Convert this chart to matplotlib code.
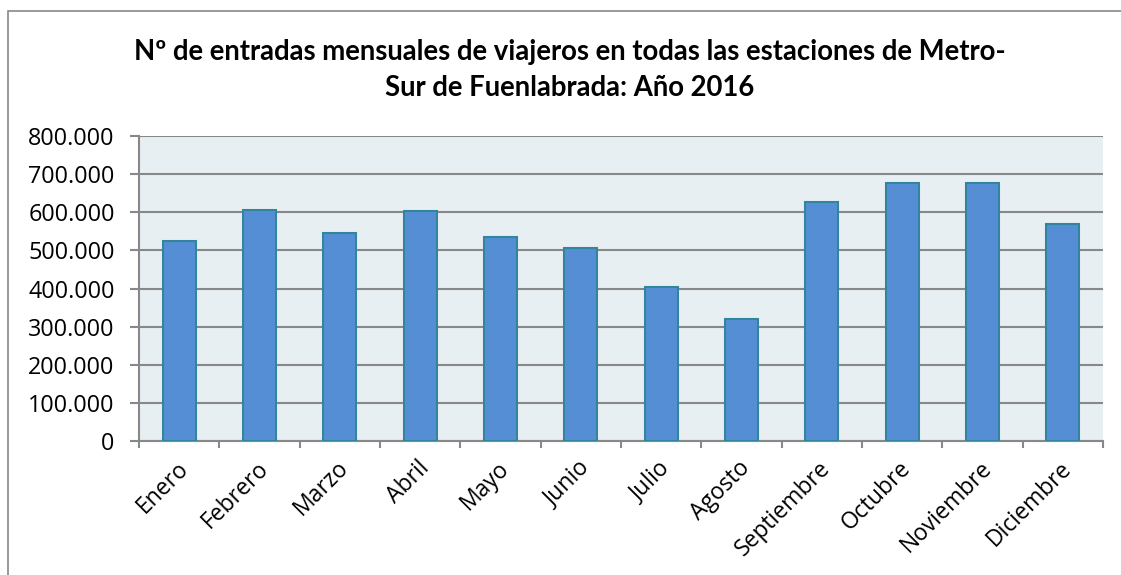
import numpy as np
import matplotlib.pyplot as plt
import matplotlib.transforms as mtransforms
from matplotlib.patches import Rectangle
from matplotlib.ticker import FuncFormatter

meses = ["Enero", "Febrero", "Marzo", "Abril", "Mayo", "Junio", "Julio",
         "Agosto", "Septiembre", "Octubre", "Noviembre", "Diciembre"]
entradas = [525000, 605000, 545000, 603000, 535000, 506000, 404000,
            320000, 628000, 676000, 677000, 569000]

plt.rcParams['font.family'] = ['Open Sans', 'DejaVu Sans']

fig = plt.figure(figsize=(11.21, 5.75), dpi=100)
ax = fig.add_axes([139 / 1121, 1 - 441 / 575, (1103 - 139) / 1121, (441 - 136) / 575])

x = np.arange(len(meses))
ax.bar(x, entradas, width=0.41, color="#558ED5", edgecolor="#31859C",
       linewidth=1.5, zorder=3)

ax.set_facecolor("#E8EFF3")
ax.set_xlim(-0.5, len(meses) - 0.5)
ax.set_ylim(0, 800000)
ax.set_yticks(np.arange(0, 800001, 100000))
ax.yaxis.set_major_formatter(FuncFormatter(lambda v, p: f"{int(v):,}".replace(",", ".")))
ax.grid(axis="y", color="#888888", linewidth=1.5, zorder=1)

# ticks between categories
ax.set_xticks(np.arange(-0.5, len(meses), 1.0))
ax.set_xticklabels([])
ax.set_xticks(x, minor=True)
ax.set_xticklabels(meses, minor=True, rotation=45, ha="right",
                   rotation_mode="anchor", fontsize=16.5)
ax.tick_params(axis="x", which="minor", length=0, pad=11)
ax.tick_params(axis="x", which="major", length=5, color="#888888", width=1.5)
ax.tick_params(axis="y", length=6.5, color="#888888", width=1.5, labelsize=16.8, pad=11)

shift = mtransforms.ScaledTranslation(-3 / 100, 0, fig.dpi_scale_trans)
for lab in ax.get_xticklabels(minor=True):
    lab.set_transform(lab.get_transform() + shift)

for s in ["top", "right"]:
    ax.spines[s].set_visible(False)
for s in ["left", "bottom"]:
    ax.spines[s].set_color("#888888")
    ax.spines[s].set_linewidth(1.5)

fig.text(570 / 1121, 1 - 70 / 575,
         "Nº de entradas mensuales de viajeros en todas las estaciones de Metro-\nSur de Fuenlabrada: Año 2016",
         ha="center", va="center", fontsize=19.8, fontweight="bold",
         linespacing=1.45, family=["Lato", "DejaVu Sans"])

fig.patches.append(Rectangle((8 / 1121, -10 / 575), 1130 / 1121, 574 / 575,
                             transform=fig.transFigure, fill=False,
                             edgecolor="#888888", linewidth=1.2))

fig.savefig("out.png", dpi=100)
